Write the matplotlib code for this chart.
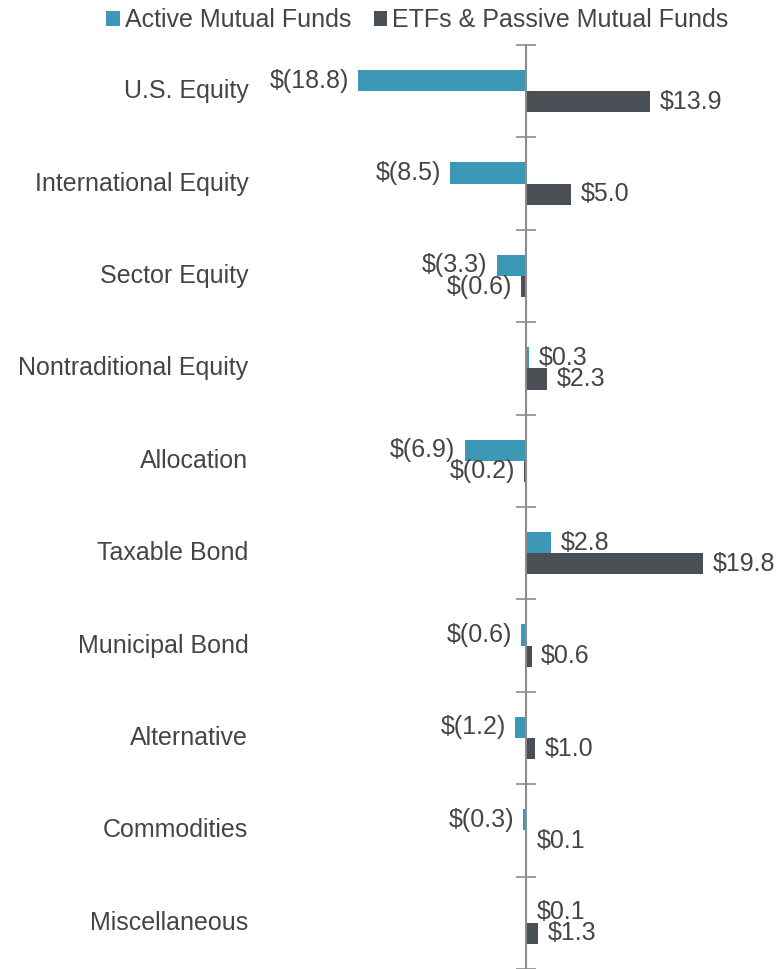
import numpy as np
import matplotlib
matplotlib.use("Agg")
import matplotlib.pyplot as plt

plt.rcParams['font.family'] = ['Liberation Sans', 'DejaVu Sans']

# Flows by category ($ billions)
categories = ["U.S. Equity", "International Equity", "Sector Equity",
              "Nontraditional Equity", "Allocation", "Taxable Bond",
              "Municipal Bond", "Alternative", "Commodities", "Miscellaneous"]
active = [-18.8, -8.5, -3.3, 0.3, -6.9, 2.8, -0.6, -1.2, -0.3, 0.1]
passive = [13.9, 5.0, -0.6, 2.3, -0.2, 19.8, 0.6, 1.0, 0.1, 1.3]
series_names = ["Active Mutual Funds", "ETFs & Passive Mutual Funds"]

teal = "#3D97B7"
dark = "#4A4E55"
txt = "#454545"

fig = plt.figure(figsize=(7.8, 9.69), dpi=100)
ax = fig.add_axes([260 / 780, 0, 510 / 780, 924 / 969])

y = np.arange(len(categories))
h = 0.23
ax.barh(y - h / 2, active, height=h, color=teal, label=series_names[0])
ax.barh(y + h / 2, passive, height=h, color=dark, label=series_names[1])

ax.set_xlim(-29.8, 27.3)
ax.set_ylim(len(categories) - 0.5, -0.5)

# spine at zero with boundary ticks
for s in ["top", "right", "bottom"]:
    ax.spines[s].set_visible(False)
ax.spines["left"].set_position(("data", 0))
ax.spines["left"].set_color("#8C8C8C")
ax.spines["left"].set_linewidth(1.5)
ax.set_yticks(np.arange(len(categories) + 1) - 0.5)
ax.tick_params(axis="y", direction="inout", length=14, width=1.2,
               color="#8C8C8C", labelleft=False)
ax.set_xticks([])

fs = 18
for i, c in enumerate(categories):
    ax.text(-0.023, i, c, transform=ax.get_yaxis_transform(),
            ha="right", va="center", fontsize=fs, color=txt)


def fmt(v):
    return f"$({abs(v):.1f})" if v < 0 else f"${v:.1f}"


for vals, off in [(active, -h / 2), (passive, h / 2)]:
    for i, v in enumerate(vals):
        if v < 0:
            ax.annotate(fmt(v), (v, i + off), xytext=(-6.5, 0),
                        textcoords="offset points", ha="right", va="center",
                        fontsize=fs, color=txt)
        else:
            ax.annotate(fmt(v), (v, i + off), xytext=(7, 0),
                        textcoords="offset points", ha="left", va="center",
                        fontsize=fs, color=txt)

fig.legend(loc="upper center", bbox_to_anchor=(0.535, 1.015), ncol=2,
           frameon=False, fontsize=fs, handlelength=0.55, handleheight=0.55,
           handletextpad=0.2, columnspacing=0.9, labelcolor=txt)

fig.savefig("out.png", dpi=100)
